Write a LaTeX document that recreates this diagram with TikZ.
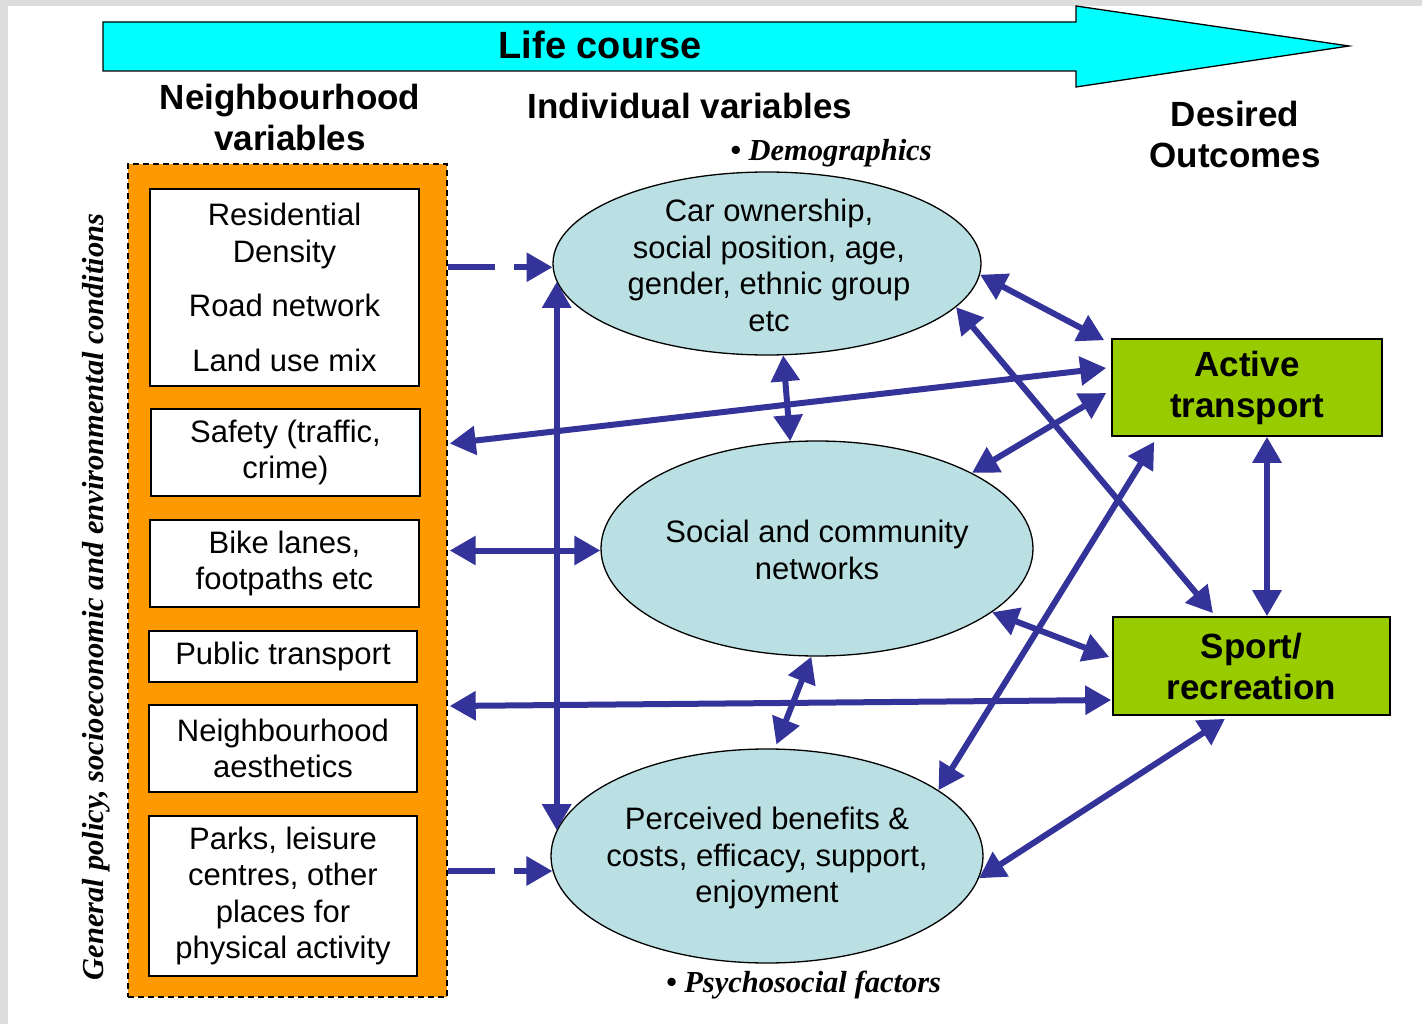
\documentclass[tikz,border=0pt]{standalone}
\usepackage{fontspec}
\setmainfont{Liberation Sans}
\newfontfamily\serifbi{Liberation Serif}
\usetikzlibrary{arrows.meta,shapes.geometric,calc}
\definecolor{bggray}{HTML}{DDDDDD}
\definecolor{lifecyan}{HTML}{00FFFF}
\definecolor{nborange}{HTML}{FF9900}
\definecolor{ellfill}{HTML}{BBE0E3}
\definecolor{outgreen}{HTML}{99CC00}
\definecolor{arrblue}{HTML}{333399}
\begin{document}
\begin{tikzpicture}[x=1pt,y=-1pt,
  txt/.style={font=\fontsize{31}{36.5}\selectfont, align=center},
  head/.style={font=\fontsize{35}{41}\selectfont\bfseries, align=center},
  wbox/.style={draw=black, line width=1.3pt, fill=white, minimum width=268pt, inner sep=0pt, txt},
  ell/.style={ellipse, draw=black, line width=1.3pt, fill=ellfill, inner sep=0pt},
  gbox/.style={draw=black, line width=1.6pt, fill=outgreen, inner sep=0pt, head},
  tipA/.tip={Triangle[length=26pt,width=28pt]},
  dbl/.style={tipA-tipA, line width=6pt, draw=arrblue},
  sgl/.style={-tipA, line width=6pt, draw=arrblue},
  ital/.style={font=\fontsize{30.5}{36}\selectfont\serifbi\bfseries\itshape}
]
% background
\fill[bggray] (0,0) rectangle (1422,1024);
\fill[white] (8,6) rectangle (1422,1024);

% life course arrow
\draw[fill=lifecyan, line width=1.3pt, line join=miter]
  (103,22) -- (1076,22) -- (1076,6) -- (1349,46) -- (1076,87) -- (1076,71) -- (103,71) -- cycle;
\node[font=\fontsize{38}{44}\selectfont\bfseries] (life) at (600,45) {Life course};

% headings
\node[head] (hnb) at (290,117) {Neighbourhood\\variables};
\node[head] (hind) at (690,106) {Individual variables};
\node[head] (hout) at (1235,134) {Desired\\Outcomes};

% neighbourhood frame
\node[draw=black, dashed, dash pattern=on 6pt off 4pt, line width=1.4pt, fill=nborange,
  minimum width=319pt, minimum height=833pt, inner sep=0pt] (nb) at (287.5,580.5) {};

\node[wbox, minimum width=269pt, minimum height=197pt] (res) at (284.5,287.5)
  {Residential\\Density\\[18pt]Road network\\[18pt]Land use mix};
\node[wbox, minimum width=269pt, minimum height=87pt] (safety) at (285.5,452.5)
  {Safety (traffic,\\crime)};
\node[wbox, minimum width=269pt, minimum height=87pt] (bike) at (284.5,563.5)
  {Bike lanes,\\footpaths etc};
\node[wbox, minimum height=51pt] (pt) at (283,656.5) {Public transport};
\node[wbox, minimum height=87pt] (aest) at (283,748.5) {Neighbourhood\\aesthetics};
\node[wbox, minimum height=160pt] (parks) at (283,896)
  {Parks, leisure\\centres, other\\places for\\physical activity};

% side label
\node[ital, rotate=90] (gen) at (96,597)
  {General policy, socioeconomic and environmental conditions};

% ellipses
\node[ell, minimum width=428pt, minimum height=183pt] (e1) at (767,263.5) {};
\node[txt] (e1t) at (769,265.5) {Car ownership,\\social position, age,\\gender, ethnic group\\etc};
\node[ell, minimum width=432pt, minimum height=215pt] (e2) at (817,548.5) {};
\node[txt] (e2t) at (817,550) {Social and community\\networks};
\node[ell, minimum width=432pt, minimum height=214pt] (e3) at (767,856) {};
\node[txt] (e3t) at (767,858) {Perceived benefits \&\\costs, efficacy, support,\\enjoyment};

\node[ital] (demo) at (831,153) {\textbullet\ Demographics};
\node[ital] (psy) at (803.5,985) {\textbullet\ Psychosocial factors};

% outcomes
\node[gbox, minimum width=270pt, minimum height=97pt] (act) at (1247,387.5) {Active\\transport};
\node[gbox, minimum width=277pt, minimum height=98pt] (sport) at (1251.5,666) {Sport/\\recreation};

% connectors
\draw[sgl, dash pattern=on 47pt off 19pt] (nb.east |- e1.181) -- (e1.181);
\draw[sgl, dash pattern=on 47pt off 19pt] (nb.east |- e3.184) -- (e3.184);
\draw[dbl] (e1.185) -- (e1.185 |- e3.173);
\draw[dbl] (e1.-3) -- ([shift={(-7,2)}]act.north west);
\draw[dbl] ($(act.west)+(-5,-19.5)$) -- ($(nb.east |- safety.east)+(2,-9)$);
\draw[dbl] (e1.-80) -- (e2.104);
\draw[dbl] (e2.26) -- ($(act.west)+(-5,5.5)$);
\draw[dbl] (e1.-13) -- ($(sport.north)+(-38.5,-3)$);
\draw[dbl] ($(nb.east |- e2.west)+(2,2)$) -- ($(e2.west)+(0,2)$);
\draw[dbl] (e2.-20) -- ($(sport.west)+(-3,-9)$);
\draw[dbl] ($(sport.west)+(-1,34)$) -- ($(nb.east |- aest.east)+(2,-42.5)$);
\draw[dbl] (e2.-93) -- ($(e3.85)+(0,-4)$);
\draw[dbl] (e3.21) -- ($(act.south west)+(43,5)$);
\draw[dbl] (e3.-6) -- ($(sport.south)+(-26.5,3)$);
\coordinate (vtop) at ($(act.south)+(20,0)$);
\draw[dbl] (vtop) -- (vtop |- sport.north);
\end{tikzpicture}
\end{document}
